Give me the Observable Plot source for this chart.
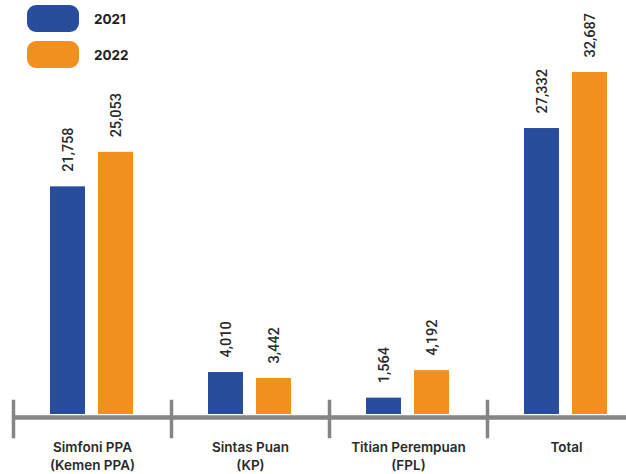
<!DOCTYPE html>
<html>
<head>
<meta charset="utf-8">
<script src="https://cdn.jsdelivr.net/npm/d3@7"></script>
<script src="https://cdn.jsdelivr.net/npm/@observablehq/plot@0.6"></script>
<style>
  html, body { margin: 0; padding: 0; background: #fff; }
  #wrap { position: relative; width: 626px; height: 474px; }
  .legend { position: absolute; left: 27px; top: 5px; font-family: Inter, "Noto Sans", sans-serif; font-weight: 700; font-size: 13.5px; color: #222; }
  .legend .item { display: flex; align-items: center; height: 27px; margin-bottom: 9px; }
  .legend .sw { width: 52px; height: 27px; border-radius: 9px; margin-right: 15px; }
</style>
</head>
<body>
<div id="wrap"></div>
<script>
const categories = ["Simfoni PPA", "Sintas Puan", "Titian Perempuan", "Total"];
const categoryLabels = ["Simfoni PPA\n(Kemen PPA)", "Sintas Puan\n(KP)", "Titian Perempuan\n(FPL)", "Total"];
const years = ["2021", "2022"];
const values2021 = [21758, 4010, 1564, 27332];
const values2022 = [25053, 3442, 4192, 32687];
const colors = ["#284d9d", "#f2901f"];

const rows = categories.flatMap((c, i) => [
  {cat: c, year: years[0], value: values2021[i]},
  {cat: c, year: years[1], value: values2022[i]}
]);
const labelOf = new Map(categories.map((c, i) => [c, categoryLabels[i]]));
const gray = "#858585";

const chart = Plot.plot({
  width: 626,
  height: 474,
  marginTop: 72,
  marginBottom: 60,
  marginLeft: 13,
  marginRight: -19,
  fx: {domain: categories, padding: 0, axis: null},
  x: {domain: years, paddingInner: 0.265, paddingOuter: 0.745, axis: null},
  y: {domain: [0, d3.max(rows, d => d.value)], axis: null},
  color: {domain: years, range: colors},
  marks: [
    Plot.barY(rows, {fx: "cat", x: "year", y: "value", fill: "year"}),
    Plot.ruleY([0], {stroke: gray, strokeWidth: 4.5, dy: 3}),
    Plot.frame({anchor: "left", stroke: gray, strokeWidth: 3.5, insetTop: 329, insetBottom: -22}),
    Plot.text(rows, {
      fx: "cat", x: "year", y: "value",
      text: d => d3.format(",")(d.value),
      rotate: -90, textAnchor: "start", dy: -15,
      fontSize: 14.5, fontWeight: 500, fill: "#2a2a2a", fontFamily: "Roboto, Liberation Sans, sans-serif"
    }),
    Plot.text(categories, {
      fx: d => d,
      text: d => labelOf.get(d),
      frameAnchor: "bottom", lineAnchor: "top", dy: 25, lineHeight: 1.33,
      fontSize: 13.5, fontWeight: 600, fill: "#2a2a2a", fontFamily: "Inter, Noto Sans, sans-serif"
    })
  ]
});

const wrap = document.getElementById("wrap");
wrap.appendChild(chart);

const legend = document.createElement("div");
legend.className = "legend";
years.forEach((y, i) => {
  const item = document.createElement("div");
  item.className = "item";
  const sw = document.createElement("div");
  sw.className = "sw";
  sw.style.background = colors[i];
  const t = document.createElement("span");
  t.textContent = y;
  item.appendChild(sw);
  item.appendChild(t);
  legend.appendChild(item);
});
wrap.appendChild(legend);
</script>
</body>
</html>
